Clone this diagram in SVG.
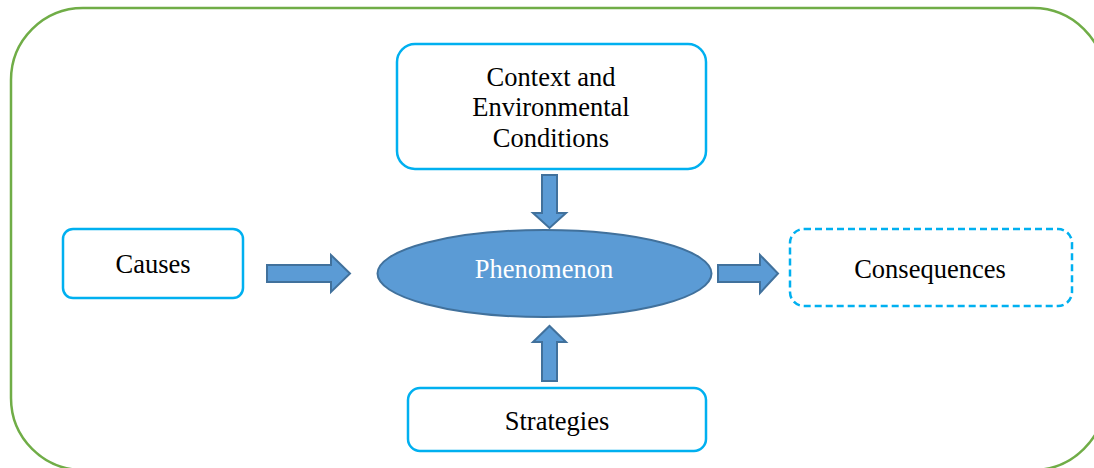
<svg xmlns="http://www.w3.org/2000/svg" width="1094" height="468" viewBox="0 0 1094 468">
<style>
.box{fill:#fff;stroke:#00B0F0;stroke-width:2.5}
.dash{stroke-dasharray:7 4}
.arr{fill:#5B9BD5;stroke:#41719C;stroke-width:2;stroke-linejoin:miter}
.t{font-family:"Liberation Serif","Times New Roman",serif;font-size:26.5px;fill:#000;text-anchor:middle}
.w{fill:#fff}
</style>
<rect x="11" y="8" width="1094" height="462" rx="72" ry="72" fill="#fff" stroke="#70AD47" stroke-width="2.5"/>
<g id="context">
<rect class="box" x="397" y="44" width="309" height="125" rx="18"/>
<text class="t" x="551" y="86">Context and</text>
<text class="t" x="551" y="116">Environmental</text>
<text class="t" x="551" y="147">Conditions</text>
</g>
<g id="causes">
<rect class="box" x="63" y="229" width="180" height="69" rx="10"/>
<text class="t" x="153" y="273">Causes</text>
</g>
<g id="phenomenon">
<ellipse cx="544.5" cy="273.5" rx="167" ry="43.5" fill="#5B9BD5" stroke="#41719C" stroke-width="2"/>
<text class="t w" x="544" y="278">Phenomenon</text>
</g>
<g id="consequences">
<rect class="box dash" x="790" y="229" width="282" height="77" rx="14"/>
<text class="t" x="930" y="278">Consequences</text>
</g>
<g id="strategies">
<rect class="box" x="408" y="388" width="298" height="63" rx="12"/>
<text class="t" x="557" y="430">Strategies</text>
</g>
<g id="connectors">
<polygon class="arr" points="542,175 557,175 557,213 566,213 549.5,228 533,213 542,213"/>
<polygon class="arr" points="542,381 557,381 557,342 566,342 549.5,326 533,342 542,342"/>
<polygon class="arr" points="267,265 331,265 331,255 350,273.5 331,292 331,282 267,282"/>
<polygon class="arr" points="718,265 760,265 760,255 778,273.5 760,293 760,282 718,282"/>
</g>
</svg>
